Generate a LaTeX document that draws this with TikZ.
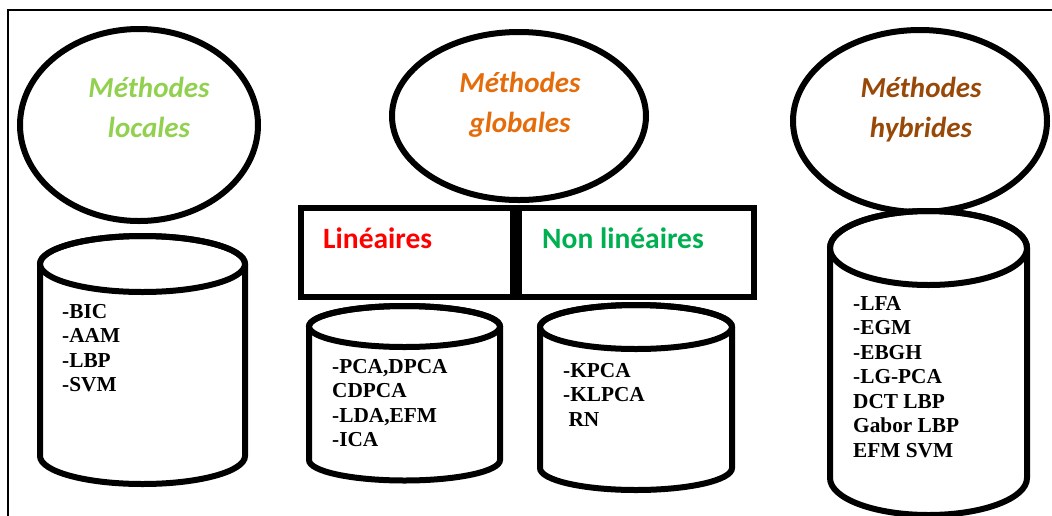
\documentclass[tikz,border=0pt]{standalone}
\usepackage{fontspec}
\setmainfont{Liberation Serif}
\newfontfamily\calibri{Carlito}
\usetikzlibrary{shapes.geometric}

\definecolor{locgreen}{HTML}{92D050}
\definecolor{globorange}{HTML}{E46C0A}
\definecolor{hybbrown}{HTML}{984807}
\definecolor{linred}{HTML}{FF0000}
\definecolor{nlgreen}{HTML}{00B050}

\tikzset{
  heavy/.style={line width=6pt},
  family/.style={draw, ellipse, heavy, inner sep=0pt},
  title/.style={font=\calibri\bfseries\itshape\fontsize{29}{40}\selectfont,
                align=center, anchor=base, inner sep=0pt},
  sub/.style={font=\calibri\bfseries\fontsize{29.5}{32}\selectfont,
              anchor=base west, inner sep=0pt},
  list/.style={font=\bfseries\fontsize{21.3}{24.5}\selectfont,
               align=left, anchor=north west, inner sep=0pt},
  panel/.style={draw, heavy, inner sep=0pt},
}

% drum (database cylinder): centre x, top-face y, bottom-face y, x radius, y radius
\newcommand\drum[5]{%
  \filldraw[fill=white, heavy]
    ({#1-#4},#2) -- ({#1-#4},#3)
    arc[start angle=180, end angle=0, x radius=#4, y radius=#5]
    -- ({#1+#4},#2)
    arc[start angle=0, end angle=-180, x radius=#4, y radius=#5] -- cycle;
  \draw[heavy] (#1,#2) ellipse[x radius=#4, y radius=#5];
}

\begin{document}
\begin{tikzpicture}[x=1pt, y=-1pt]
\useasboundingbox (0,0) rectangle (1052,515);

% outer frame
\draw[line width=2pt] (8,540) -- (8,10) -- (1070,10);

% the three families of methods
\node[family, minimum width=238pt, minimum height=192pt] (loc)  at (139,125) {};
\node[family, minimum width=254pt, minimum height=168pt] (glob) at (519,116) {};
\node[family, minimum width=254pt, minimum height=182pt] (hyb)  at (920,121) {};

% titles: anchored on the baseline of their second line
\node[title, text=locgreen]   (locT)  at (149,137) {Méthodes\\locales};
\node[title, text=globorange] (globT) at (520,132) {Méthodes\\globales};
\node[title, text=hybbrown]   (hybT)  at (921,137) {Méthodes\\hybrides};

% split of the global methods
\node[panel, minimum width=212pt, minimum height=89pt] (lin)    at (407,252.5) {};
\node[panel, minimum width=235pt, minimum height=89pt] (nonlin) at (636.5,252.5) {};
\node[sub, text=linred] (linT)    at (323,248) {Linéaires};
\node[sub, text=nlgreen] (nonlinT) at (542,248) {Non linéaires};

% drums holding the method lists
\drum{142.5}{264}{456}{102.5}{28}
\drum{404.5}{326.5}{460}{95.5}{20.5}
\drum{636}{327}{468}{96}{22}
\drum{928.5}{248}{478}{98.5}{37}

\node[list] (locL)    at (62,304)  {-BIC\\-AAM\\-LBP\\-SVM};
\node[list] (linL)    at (332,359) {-PCA,DPCA\\CDPCA\\-LDA,EFM\\-ICA};
\node[list] (nonlinL) at (563,363) {-KPCA\\-KLPCA\\\hspace*{0.25em}RN};
\node[list] (hybL)    at (853,296) {-LFA\\-EGM\\-EBGH\\-LG-PCA\\DCT LBP\\Gabor LBP\\EFM SVM};
\end{tikzpicture}
\end{document}
